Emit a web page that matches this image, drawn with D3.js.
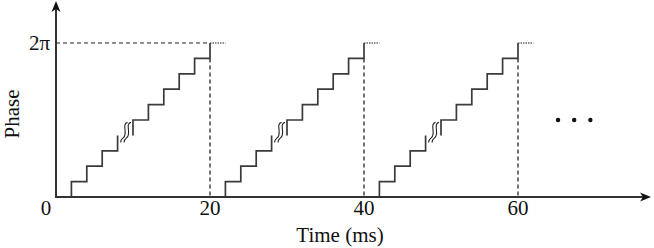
<!DOCTYPE html>
<html>
<head>
<meta charset="utf-8">
<script src="https://cdn.jsdelivr.net/npm/d3@7"></script>
<style>
  html, body { margin: 0; padding: 0; background: #fff; }
  svg { display: block; }
  text { font-family: "Liberation Serif", "Times New Roman", serif; fill: #111; }
</style>
</head>
<body>
<svg id="chart" width="654" height="248"></svg>
<script>
// ---- data ----
const cycleStarts = [0, 20, 40];                 // ms, start of each period
const lowerStepTimes = [2, 4, 6, 8];             // ms within cycle (before break)
const lowerStepLevels = [1, 2, 3, 4];            // phase, in units of 2π/10
const upperStartTime = 10;                       // ms, after break
const upperStartLevel = 4;
const upperStepTimes = [10, 12, 14, 16, 18, 20];
const upperStepLevels = [5, 6, 7, 8, 9, 10];
const breakTime = 9;                             // ms, break symbol position
const breakLevel = 4;
const cycleEnds = [20, 40, 60];
const xTickValues = [20, 40, 60];
const xTickLabels = ["20", "40", "60"];
const yTickLabel = "2π";
const dotTimes = [65.2, 67.3, 69.4];
const dotLevel = 5;
const levelsPerCycle = 10;

// ---- scales ----
const svg = d3.select("#chart");
const x = d3.scaleLinear().domain([0, 20]).range([56, 210]);
const y = d3.scaleLinear().domain([0, levelsPerCycle]).range([197, 43]);

const axisColor = "#333";
const lineColor = "#3a3a3a";

// dashed 2π reference line and stubs
svg.append("line")
  .attr("x1", x(0)).attr("x2", x(20)).attr("y1", y(10)).attr("y2", y(10))
  .attr("stroke", "#222").attr("stroke-width", 1.2).attr("stroke-dasharray", "4,3");
cycleEnds.forEach(t => {
  svg.append("line")
    .attr("x1", x(t)).attr("x2", x(t + 2)).attr("y1", y(10)).attr("y2", y(10))
    .attr("stroke", "#222").attr("stroke-width", 1.2).attr("stroke-dasharray", "1.5,1");
  // vertical dashed line at end of cycle
  svg.append("line")
    .attr("x1", x(t)).attr("x2", x(t)).attr("y1", y(9)).attr("y2", y(0))
    .attr("stroke", "#444").attr("stroke-width", 1.5).attr("stroke-dasharray", "4,3");
});

// staircases
const line = d3.line().x(d => x(d[0])).y(d => y(d[1]));
cycleStarts.forEach(c => {
  const lower = [[c + lowerStepTimes[0], 0]];
  lowerStepTimes.forEach((t, i) => {
    if (i > 0) lower.push([c + t, lowerStepLevels[i - 1]]);
    lower.push([c + t, lowerStepLevels[i]]);
  });
  const upper = [[c + upperStartTime, upperStartLevel]];
  upperStepTimes.forEach((t, i) => {
    if (i > 0) upper.push([c + t, upperStepLevels[i - 1]]);
    upper.push([c + t, upperStepLevels[i]]);
  });
  [lower, upper].forEach(pts => {
    svg.append("path").attr("d", line(pts))
      .attr("fill", "none").attr("stroke", lineColor).attr("stroke-width", 1.7);
  });
  // break symbol: double S-curve
  const bx = x(c + breakTime) + 0.5, by = y(breakLevel) - 3;
  [-1.7, 1.7].forEach(o => {
    const p = d3.path();
    p.moveTo(bx + o + 3.5, by - 10);
    p.bezierCurveTo(bx + o - 3, by - 9, bx + o + 4.5, by + 2, bx + o - 1, by + 5.5);
    p.bezierCurveTo(bx + o - 3.5, by + 7.5, bx + o - 3.5, by + 9, bx + o - 3.5, by + 10);
    svg.append("path").attr("d", p.toString())
      .attr("fill", "none").attr("stroke", "#222").attr("stroke-width", 1.1);
  });
});

// axes
const xAxisEnd = 651, yAxisTop = 1;
svg.append("line").attr("x1", x(0)).attr("x2", xAxisEnd - 6).attr("y1", y(0)).attr("y2", y(0))
  .attr("stroke", axisColor).attr("stroke-width", 2);
svg.append("line").attr("x1", x(0)).attr("x2", x(0)).attr("y1", y(0) + 1).attr("y2", yAxisTop + 6)
  .attr("stroke", axisColor).attr("stroke-width", 2);
svg.append("path")
  .attr("d", `M${xAxisEnd},${y(0)} L${xAxisEnd - 11},${y(0) - 4.5} L${xAxisEnd - 8},${y(0)} L${xAxisEnd - 11},${y(0) + 4.5} Z`)
  .attr("fill", "#111");
svg.append("path")
  .attr("d", `M${x(0)},${yAxisTop} L${x(0) - 4.5},${yAxisTop + 11} L${x(0)},${yAxisTop + 8} L${x(0) + 4.5},${yAxisTop + 11} Z`)
  .attr("fill", "#111");

// tick labels
svg.selectAll("text.xt").data(xTickValues).enter().append("text")
  .attr("class", "xt")
  .attr("x", d => x(d)).attr("y", 215)
  .attr("text-anchor", "middle").attr("font-size", 21)
  .text((d, i) => xTickLabels[i]);
svg.append("text").attr("x", 46).attr("y", 215).attr("text-anchor", "middle")
  .attr("font-size", 21).text("0");
svg.append("text").attr("x", 50).attr("y", y(10) + 7).attr("text-anchor", "end")
  .attr("font-size", 21).text(yTickLabel);

// axis titles
svg.append("text").attr("x", 340).attr("y", 242).attr("text-anchor", "middle")
  .attr("font-size", 21).text("Time (ms)");
svg.append("text").attr("transform", `translate(19,114) rotate(-90)`)
  .attr("text-anchor", "middle").attr("font-size", 21).text("Phase");

// ellipsis dots
svg.selectAll("circle.dot").data(dotTimes).enter().append("circle")
  .attr("class", "dot")
  .attr("cx", d => x(d)).attr("cy", y(dotLevel)).attr("r", 2.2).attr("fill", "#111");
</script>
</body>
</html>
